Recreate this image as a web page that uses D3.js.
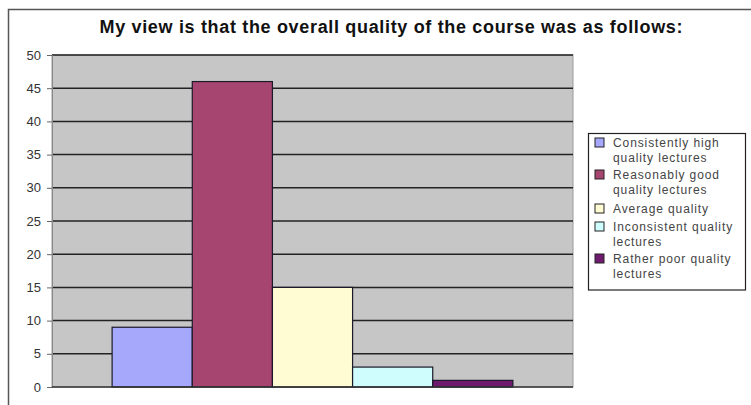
<!DOCTYPE html>
<html><head><meta charset="utf-8">
<script src="https://cdn.jsdelivr.net/npm/d3@7"></script>
<style>body{margin:0;background:#fff;}svg{display:block;}</style>
</head><body>
<script>
const title = "My view is that the overall quality of the course was as follows:";
const seriesNames = ["Consistently high quality lectures","Reasonably good quality lectures","Average quality","Inconsistent quality lectures","Rather poor quality lectures"];
const legendLines = [["Consistently high","quality lectures"],["Reasonably good","quality lectures"],["Average quality"],["Inconsistent quality","lectures"],["Rather poor quality","lectures"]];
const values = [9, 46, 15, 3, 1];
const colors = ["#a6a8fb","#a6456f","#fffbd2","#cffcfc","#6e1a6e"];
const yTicks = [0,5,10,15,20,25,30,35,40,45,50];

const W = 751, H = 405;
const svg = d3.select("body").append("svg").attr("width", W).attr("height", H);
const font = "Liberation Sans, Arial, sans-serif";

// outer chart border
svg.append("rect").attr("x", 8.5).attr("y", 9.5).attr("width", 760).attr("height", 420)
  .attr("fill", "#fff").attr("stroke", "#555").attr("stroke-width", 1.5);

svg.append("text").attr("x", 391).attr("y", 33).attr("text-anchor", "middle")
  .attr("font-family", font).attr("font-weight", "bold").attr("font-size", 18)
  .attr("textLength", 583).attr("lengthAdjust", "spacing")
  .attr("fill", "#111").text(title);

const plot = {l: 52, r: 573, t: 55, b: 387};
const y = d3.scaleLinear().domain([0, 50]).range([plot.b, plot.t]);
const x = d3.scaleBand().domain(seriesNames).range([plot.l, plot.r]).paddingInner(0).paddingOuter(0.75);

svg.append("rect").attr("x", plot.l).attr("y", plot.t).attr("width", plot.r - plot.l).attr("height", plot.b - plot.t)
  .attr("fill", "#c6c6c6").attr("stroke", "#9a9a9a").attr("stroke-width", 1);

// gridlines
svg.append("g").selectAll("line").data(yTicks.filter(d => d > 0)).join("line")
  .attr("x1", plot.l).attr("x2", plot.r).attr("y1", d => y(d)).attr("y2", d => y(d))
  .attr("stroke", "#222").attr("stroke-width", 1.5);

// y axis
const yAxis = d3.axisLeft(y).tickValues(yTicks).tickSize(5).tickPadding(6);
const ga = svg.append("g").attr("transform", `translate(${plot.l},0)`).call(yAxis);
ga.select(".domain").attr("stroke", "#888");
ga.selectAll(".tick line").attr("stroke", "#666");
ga.selectAll("text").attr("font-family", font).attr("font-size", 13).attr("fill", "#333");

// bars
svg.append("g").selectAll("rect").data(values).join("rect")
  .attr("x", (d, i) => x(seriesNames[i])).attr("width", x.bandwidth())
  .attr("y", d => y(d)).attr("height", d => y(0) - y(d))
  .attr("fill", (d, i) => colors[i]).attr("stroke", "#1a1a2a").attr("stroke-width", 1.2);

// x axis baseline
svg.append("line").attr("x1", plot.l).attr("x2", plot.r).attr("y1", plot.b).attr("y2", plot.b)
  .attr("stroke", "#333").attr("stroke-width", 1.5);

// legend
const lg = svg.append("g");
lg.append("rect").attr("x", 588.5).attr("y", 133.5).attr("width", 157).attr("height", 156.5)
  .attr("fill", "#fff").attr("stroke", "#222").attr("stroke-width", 1.2);
const entryY = [143, 175, 209, 227, 259];
legendLines.forEach((lines, i) => {
  lg.append("rect").attr("x", 595).attr("y", entryY[i] - 5).attr("width", 9).attr("height", 9)
    .attr("fill", colors[i]).attr("stroke", "#222").attr("stroke-width", 1);
  lines.forEach((t, j) => {
    lg.append("text").attr("x", 613).attr("y", entryY[i] + 4 + j * 15)
      .attr("font-family", font).attr("font-size", 12).attr("letter-spacing", 0.9)
      .attr("fill", "#444").text(t);
  });
});
</script>
</body></html>
